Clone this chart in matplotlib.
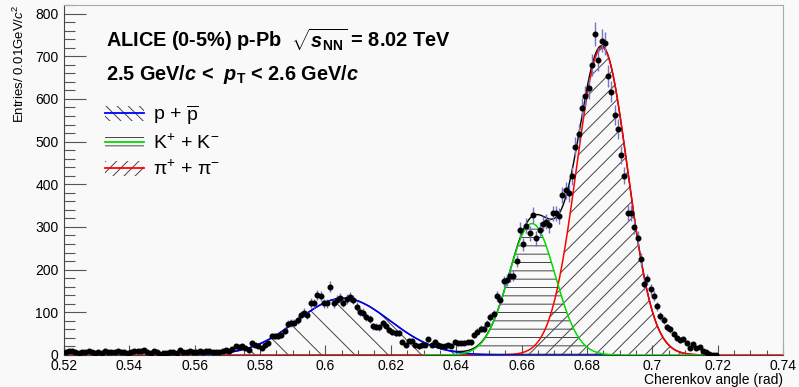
import numpy as np
import matplotlib
matplotlib.use('Agg')
import matplotlib.pyplot as plt
from matplotlib.patches import Patch
from matplotlib.lines import Line2D
from matplotlib.legend_handler import HandlerTuple
from matplotlib.ticker import MultipleLocator, FormatStrFormatter

plt.rcParams['font.family'] = ['Liberation Sans', 'DejaVu Sans']
plt.rcParams['mathtext.fontset'] = 'custom'
plt.rcParams['mathtext.rm'] = 'Liberation Sans'
plt.rcParams['mathtext.it'] = 'Liberation Sans:italic'
plt.rcParams['mathtext.bf'] = 'Liberation Sans:bold'
plt.rcParams['mathtext.bfit'] = 'Liberation Sans:bold:italic'
plt.rcParams['hatch.linewidth'] = 0.7

# histogram: 200 bins of 0.001 rad starting at 0.52
bin_lo = 0.52
bin_w = 0.001
counts = [
    7, 10, 9, 6, 5, 8, 8, 9, 6, 5,
    7, 4, 9, 6, 8, 6, 9, 7, 7, 4,
    8, 9, 10, 9, 11, 8, 5, 10, 8, 3,
    5, 5, 8, 7, 5, 11, 8, 6, 9, 8,
    7, 9, 8, 10, 9, 7, 8, 6, 9, 11,
    10, 13, 21, 18, 22, 17, 12, 27, 23, 20,
    16, 23, 27, 44, 44, 45, 46, 57, 73, 75,
    76, 82, 94, 99, 94, 122, 121, 141, 139, 121,
    121, 160, 122, 130, 134, 123, 132, 136, 130, 113,
    101, 99, 90, 84, 67, 66, 65, 74, 68, 58,
    54, 52, 51, 31, 24, 33, 33, 23, 22, 24,
    23, 37, 23, 31, 23, 22, 22, 23, 21, 31,
    27, 28, 29, 30, 30, 47, 55, 62, 62, 73,
    88, 96, 138, 129, 173, 176, 185, 186, 220, 294,
    259, 303, 285, 328, 273, 294, 308, 312, 304, 332,
    332, 326, 375, 386, 379, 419, 488, 518, 578, 606,
    625, 679, 752, 692, 736, 730, 653, 617, 562, 529,
    468, 420, 333, 333, 300, 273, 224, 166, 177, 154,
    138, 114, 91, 82, 65, 60, 49, 41, 35, 37,
    29, 17, 26, 16, 19, 10, 6, 2, 1, 0,
]

# gaussian fit components (p, K, pi)
fit_amp = [133, 308, 721]
fit_mean = [0.6055, 0.6632, 0.6846]
fit_sigma = [0.0142, 0.0071, 0.0078]
fit_range = [(0.56, 0.69), (0.63, 0.72), (0.52, 0.74)]
fit_color = ['#0000ff', '#00dd00', '#ff0000']
fit_hatch = ['\\', '--', '//']
leg_hatch = ['\\\\\\', '--', '///']
fit_label = [r'p + $\overline{\mathrm{p}}$', r'K$^{+}$ + K$^{-}$', r'π$^{+}$ + π$^{-}$']

counts = np.array(counts, dtype=float)
centers = bin_lo + bin_w * (np.arange(len(counts)) + 0.5)
errs = np.sqrt(counts)


def gaus(x, a, m, s):
    return a * np.exp(-0.5 * ((x - m) / s) ** 2)


bg = '#f9f9f9'
fig = plt.figure(figsize=(7.99, 3.87), dpi=100, facecolor=bg)
ax = fig.add_axes([64 / 799, 1 - 355 / 387, 719 / 799, 350 / 387], facecolor=bg)

# total fit
xt = np.linspace(0.56, 0.72, 800)
tot = sum(gaus(xt, a, m, s) for a, m, s in zip(fit_amp, fit_mean, fit_sigma))
ax.plot(xt, tot, color='black', lw=1.0, zorder=3)

handles = []
for i in [2, 0, 1]:
    lo, hi = fit_range[i]
    xf = np.linspace(lo, hi, 800)
    yf = gaus(xf, fit_amp[i], fit_mean[i], fit_sigma[i])
    ax.fill_between(xf, 0, yf, facecolor='none', edgecolor='#444444',
                    hatch=fit_hatch[i], linewidth=0, zorder=2)
    ax.plot(xf, yf, color=fit_color[i], lw=1.1, zorder=4)
for i in range(3):
    handles.append((Patch(facecolor='none', edgecolor='#444444', hatch=leg_hatch[i], linewidth=0),
                    Line2D([], [], color=fit_color[i], lw=1.3)))

ax.errorbar(centers, counts, yerr=errs, fmt='o', ms=3.3, mfc='black', mec='black',
            ecolor='#7474c8', elinewidth=1.0, capsize=0, zorder=5)

ax.set_xlim(0.52, 0.74)
ax.set_ylim(0, 820)
ax.xaxis.set_major_locator(MultipleLocator(0.02))
ax.xaxis.set_minor_locator(MultipleLocator(0.005))
ax.xaxis.set_major_formatter(FormatStrFormatter('%g'))
ax.yaxis.set_major_locator(MultipleLocator(100))
ax.yaxis.set_minor_locator(MultipleLocator(20))
ax.tick_params(axis='x', which='major', direction='in', length=7, width=0.8, color='#555555',
               labelsize=10, pad=3, top=False)
ax.tick_params(axis='x', which='minor', direction='in', length=3.5, width=0.8, color='#555555', top=False)
ax.tick_params(axis='y', which='major', direction='in', length=16, width=0.8, color='#555555',
               labelsize=10, pad=4, right=False)
ax.tick_params(axis='y', which='minor', direction='in', length=8, width=0.8, color='#555555', right=False)
for side in ['left', 'bottom']:
    ax.spines[side].set_color('#444444')
for side in ['top', 'right']:
    ax.spines[side].set_color('#aaaaaa')

ax.set_xlabel('Cherenkov angle (rad)', fontsize=10, loc='right', labelpad=0)
ax.set_ylabel(r'Entries/ 0.01GeV/$c^{2}$', fontsize=9.5, loc='top', labelpad=6)

fig.text(106 / 799, 1 - 40 / 387, r'ALICE (0-5%) p-Pb  $\sqrt{\mathbfit{s}_{\mathbf{NN}}}$ = 8.02 TeV',
         fontsize=14.3, fontweight='bold', va='center', ha='left')
fig.text(106 / 799, 1 - 75 / 387, r'2.5 GeV/$\mathbfit{c}$ <  $\mathbfit{p}_{\mathbf{T}}$ < 2.6 GeV/$\mathbfit{c}$',
         fontsize=14.3, fontweight='bold', va='center', ha='left')

ax.legend(handles, fit_label, handler_map={tuple: HandlerTuple(ndivide=1, pad=0)},
          loc='upper left', bbox_to_anchor=(105 / 799, 1 - 103 / 387), bbox_transform=fig.transFigure,
          frameon=False, fontsize=14, handlelength=2.0, handleheight=0.8,
          handletextpad=0.45, labelspacing=0.35, borderpad=0, borderaxespad=0)

fig.savefig('out.png', dpi=100, facecolor=bg)
